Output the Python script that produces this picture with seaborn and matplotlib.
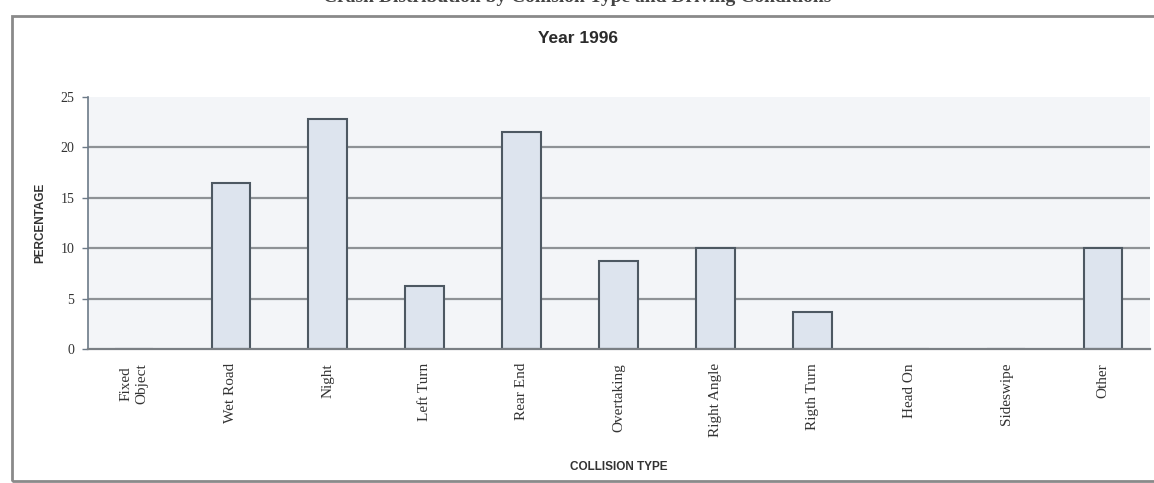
import pandas as pd
import matplotlib.pyplot as plt
import seaborn as sns
from matplotlib.patches import Rectangle

# data
collision_types = ["Fixed\nObject", "Wet Road", "Night", "Left Turn", "Rear End",
                   "Overtaking", "Right Angle", "Rigth Turn", "Head On",
                   "Sideswipe", "Other"]
percentages = [0.0, 16.5, 22.8, 6.3, 21.5, 8.7, 10.0, 3.7, 0.0, 0.0, 10.0]
y_ticks = [0, 5, 10, 15, 20, 25]

df = pd.DataFrame({"type": collision_types, "pct": percentages})

sns.set_style("white")
plt.rcParams['font.family'] = ['Liberation Sans', 'DejaVu Sans']

fig = plt.figure(figsize=(11.54, 4.83), dpi=100)
ax = fig.add_axes([0.0763, 0.2774, 0.9202, 0.5218])

# gridlines first so bars sit on top
ax.set_facecolor("#f3f5f8")
for t in y_ticks[1:-1]:
    ax.axhline(t, color="#8e9296", lw=1.6, zorder=0)

sns.barplot(data=df, x="type", y="pct", width=0.4, color="#dde4ee",
            edgecolor="#4d5862", linewidth=1.5, saturation=1, ax=ax, zorder=2)

ax.set_ylim(0, 25)
ax.set_xlim(-0.475, 10.485)
ax.set_yticks(y_ticks)
ax.set_yticklabels([str(t) for t in y_ticks], family="Liberation Serif",
                   fontsize=10, color="#333333")
ax.set_xticks(range(len(collision_types)))
ax.set_xticklabels(collision_types, rotation=90, family="Liberation Serif",
                   fontsize=11, color="#333333", va="top", linespacing=1.35)
ax.tick_params(axis="y", length=4, width=1, color="#6c7a88", pad=6, left=True)
ax.tick_params(axis="x", length=0, pad=10)

ax.set_xlabel("COLLISION TYPE", fontsize=8.5, fontweight="bold", color="#333333",
              labelpad=17)
ax.set_ylabel("PERCENTAGE", fontsize=8.5, fontweight="bold", color="#333333",
              labelpad=10)

for side in ["top", "right"]:
    ax.spines[side].set_visible(False)
ax.spines["left"].set_color("#6c7a88")
ax.spines["left"].set_linewidth(1.2)
ax.spines["bottom"].set_color("#7a7f84")
ax.spines["bottom"].set_linewidth(1.6)

fig.text(0.501, 0.921, "Year 1996", ha="center", va="center", fontsize=12.5,
         fontweight="bold", color="#2b2b2b")

# frame of the scanned chart box
fig.patches.append(Rectangle((0.0105, 0.004), 1.2, 0.963, transform=fig.transFigure,
                             fill=False, edgecolor="#8a8a8a", lw=2.0))

# report heading cut off at the top of the scan
fig.text(0.5, 1.005, "Crash Distribution by Collision Type and Driving Conditions",
         ha="center", va="center", fontsize=14, fontweight="bold",
         family="Liberation Serif", color="#444444")

plt.savefig("out.png", dpi=100)
